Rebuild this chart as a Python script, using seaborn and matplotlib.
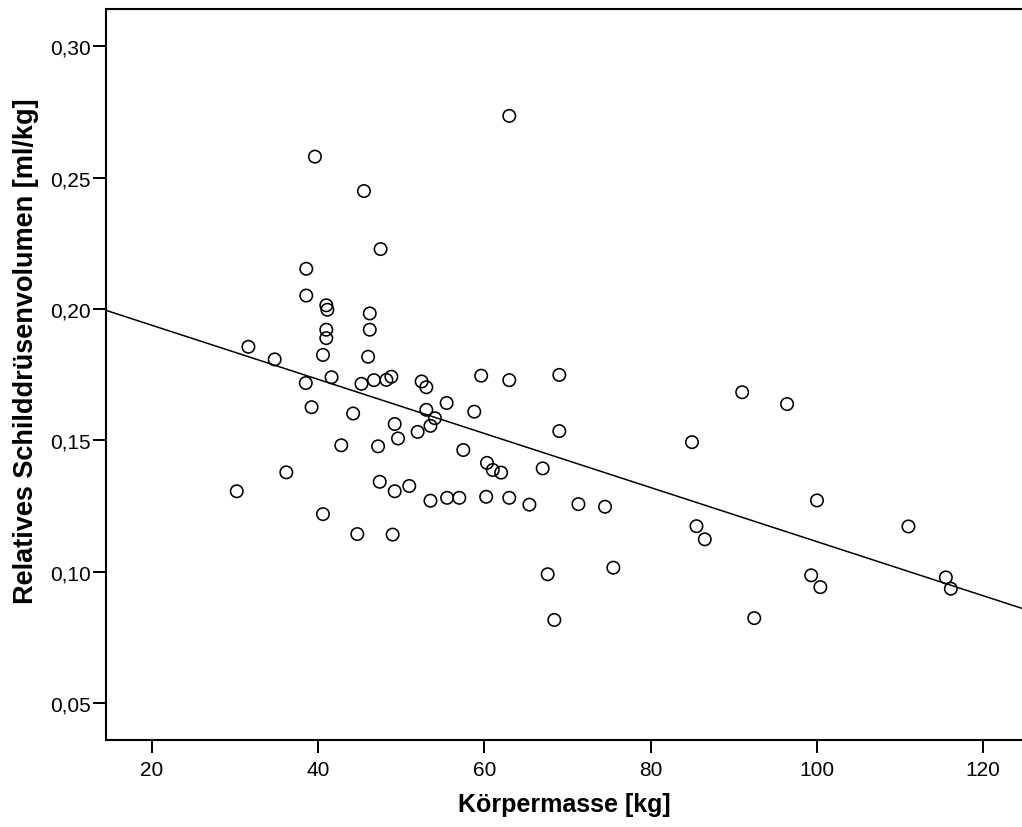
import numpy as np
import pandas as pd
import matplotlib
matplotlib.use("Agg")
import matplotlib.pyplot as plt
from matplotlib.ticker import FuncFormatter, FixedLocator
import seaborn as sns

# ---- data ----
body_mass = [30.2, 31.6, 34.76, 36.16, 38.5, 38.56, 38.56, 39.2, 39.6, 40.57,
             40.57, 40.97, 41.1, 40.97, 40.97, 41.6, 42.77, 44.2, 44.7, 45.2,
             45.5, 46.0, 46.2, 46.2, 46.7, 47.2, 47.4, 47.5, 48.2, 48.8,
             48.95, 49.2, 49.2, 49.6, 50.95, 51.96, 52.44, 53.0, 53.0, 53.5,
             53.5, 54.04, 55.45, 55.5, 56.97, 57.45, 58.77, 59.6, 60.2, 60.3,
             61.0, 62.0, 62.98, 62.98, 62.98, 65.4, 67.0, 67.6, 68.4, 69.0,
             69.0, 71.3, 74.5, 75.5, 84.96, 85.5, 86.5, 91.0, 92.45, 96.4,
             99.3, 100.0, 100.4, 111.0, 115.5, 116.1]
rel_volume = [0.1306, 0.1856, 0.1808, 0.1378, 0.1718, 0.2153, 0.2051, 0.1626, 0.2580, 0.1825,
              0.1219, 0.2014, 0.1997, 0.1921, 0.1889, 0.1740, 0.1481, 0.1602, 0.1143, 0.1715,
              0.2449, 0.1818, 0.1983, 0.1921, 0.1729, 0.1477, 0.1342, 0.2228, 0.1730, 0.1742,
              0.1141, 0.1562, 0.1306, 0.1507, 0.1326, 0.1532, 0.1724, 0.1702, 0.1616, 0.1555,
              0.1270, 0.1584, 0.1642, 0.1281, 0.1281, 0.1463, 0.1609, 0.1746, 0.1285, 0.1414,
              0.1387, 0.1377, 0.1729, 0.1281, 0.2735, 0.1255, 0.1393, 0.0990, 0.0816, 0.1749,
              0.1535, 0.1257, 0.1247, 0.1015, 0.1493, 0.1173, 0.1123, 0.1683, 0.0823, 0.1638,
              0.0986, 0.1271, 0.0941, 0.1172, 0.0978, 0.0935]

fit_intercept = 0.21437
fit_slope = -0.0010297

x_ticks = [20, 40, 60, 80, 100, 120]
y_ticks = [0.05, 0.10, 0.15, 0.20, 0.25, 0.30]
x_label = "Körpermasse [kg]"
y_label = "Relatives Schilddrüsenvolumen [ml/kg]"

df = pd.DataFrame({"mass": body_mass, "vol": rel_volume})

# ---- style ----
sns.set_style("white")
plt.rcParams["font.family"] = ["Liberation Sans", "DejaVu Sans"]

fig = plt.figure(figsize=(10.22, 8.28), dpi=100)
ax = fig.add_axes([0.1034, 0.1054, 0.8966, 0.8822])

sns.scatterplot(data=df, x="mass", y="vol", ax=ax, marker="o", s=80,
                facecolor="none", edgecolor="black", linewidth=1.15, zorder=3)

ax.axline((0, fit_intercept), slope=fit_slope, color="black", lw=1.1, zorder=2)

ax.set_xlim(14.43, 124.66)
ax.set_ylim(0.0360, 0.3141)
ax.xaxis.set_major_locator(FixedLocator(x_ticks))
ax.yaxis.set_major_locator(FixedLocator(y_ticks))
ax.yaxis.set_major_formatter(FuncFormatter(lambda v, p: f"{v:.2f}".replace(".", ",")))
ax.xaxis.set_major_formatter(FuncFormatter(lambda v, p: f"{v:.0f}"))

ax.tick_params(axis="both", which="major", direction="out", length=9.5, width=1.4,
               colors="black", labelsize=15, bottom=True, left=True,
               top=False, right=False)
ax.tick_params(axis="y", pad=1.5)
ax.tick_params(axis="x", pad=5)

for side in ["left", "bottom", "top"]:
    ax.spines[side].set_visible(True)
    ax.spines[side].set_color("black")
    ax.spines[side].set_linewidth(1.5)
ax.spines["right"].set_visible(False)

ax.set_xlabel(x_label, family=["Liberation Sans", "DejaVu Sans"],
              fontweight="bold", fontsize=18, color="black")
ax.set_ylabel(y_label, family=["Liberation Sans", "DejaVu Sans"],
              fontweight="bold", fontsize=19.5, color="black")
ax.xaxis.set_label_coords(0.5, -0.071)
ax.yaxis.set_label_coords(-0.0725, 0.5335)

fig.savefig("out.png", dpi=100, facecolor="white")
